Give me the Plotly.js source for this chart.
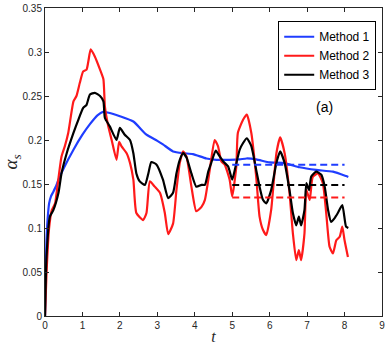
<!DOCTYPE html>
<html>
<head>
<meta charset="utf-8">
<script src="https://cdn.plot.ly/plotly-3.0.1.min.js"></script>
<style>html,body{margin:0;padding:0;background:#fff;}#chart{width:388px;height:346px;}</style>
</head>
<body>
<div id="chart"></div>
<script>
var seriesNames = ["Method 1", "Method 2", "Method 3"];

var m1_t = [0, 0.02, 0.04, 0.07, 0.11, 0.16, 0.22, 0.3, 0.36, 0.5, 0.76, 1.0, 1.2, 1.4, 1.55, 1.7, 2.0, 2.36, 2.71, 3.0, 3.15, 3.42, 3.69, 3.95, 4.31, 4.58, 4.93, 5.2, 5.38, 5.64, 6.0, 6.36, 6.8, 7.24, 7.69, 8.04, 8.1];
var m1_a = [0, 0.05, 0.086, 0.11, 0.128, 0.136, 0.141, 0.148, 0.155, 0.168, 0.189, 0.206, 0.218, 0.228, 0.232, 0.231, 0.227, 0.221, 0.206, 0.199, 0.195, 0.187, 0.185, 0.184, 0.179, 0.1775, 0.1775, 0.178, 0.179, 0.178, 0.1745, 0.174, 0.169, 0.166, 0.164, 0.159, 0.158];

var m2_t = [0, 0.04, 0.11, 0.18, 0.27, 0.31, 0.44, 0.53, 0.62, 0.76, 0.84, 0.93, 1.02, 1.11, 1.16, 1.22, 1.33, 1.47, 1.56, 1.6, 1.69, 1.78, 1.91, 1.98, 2.04, 2.18, 2.27, 2.36, 2.44, 2.62, 2.71, 2.8, 2.93, 3.07, 3.2, 3.29, 3.42, 3.51, 3.6, 3.69, 3.78, 3.91, 4.04, 4.18, 4.27, 4.4, 4.53, 4.62, 4.71, 4.8, 4.93, 5.0, 5.11, 5.15, 5.29, 5.39, 5.51, 5.64, 5.73, 5.82, 5.91, 6.04, 6.18, 6.28, 6.4, 6.53, 6.62, 6.71, 6.78, 6.84, 6.93, 6.98, 7.07, 7.15, 7.29, 7.42, 7.51, 7.6, 7.69, 7.78, 7.87, 7.94, 8.0, 8.09];
var m2_a = [0, 0.048, 0.10, 0.12, 0.128, 0.14, 0.181, 0.193, 0.208, 0.244, 0.25, 0.265, 0.278, 0.28, 0.29, 0.303, 0.295, 0.28, 0.269, 0.238, 0.2155, 0.2, 0.1775, 0.198, 0.193, 0.185, 0.174, 0.155, 0.117, 0.109, 0.117, 0.153, 0.147, 0.14, 0.117, 0.093, 0.105, 0.143, 0.174, 0.187, 0.181, 0.147, 0.119, 0.124, 0.132, 0.166, 0.2, 0.193, 0.1756, 0.172, 0.155, 0.136, 0.17, 0.208, 0.223, 0.229, 0.208, 0.1585, 0.113, 0.098, 0.092, 0.1205, 0.185, 0.203, 0.185, 0.14, 0.094, 0.0635, 0.075, 0.0635, 0.094, 0.143, 0.132, 0.158, 0.162, 0.151, 0.117, 0.0787, 0.071, 0.086, 0.09, 0.1015, 0.086, 0.067];

var m3_t = [0, 0.04, 0.13, 0.22, 0.36, 0.44, 0.58, 0.76, 0.89, 1.02, 1.11, 1.2, 1.33, 1.47, 1.56, 1.6, 1.73, 1.91, 2.0, 2.13, 2.27, 2.36, 2.44, 2.53, 2.67, 2.76, 2.84, 2.98, 3.15, 3.29, 3.42, 3.51, 3.6, 3.69, 3.78, 3.91, 4.04, 4.18, 4.27, 4.36, 4.44, 4.56, 4.67, 4.76, 4.89, 5.0, 5.09, 5.2, 5.29, 5.39, 5.51, 5.64, 5.73, 5.82, 5.91, 6.04, 6.18, 6.28, 6.4, 6.53, 6.62, 6.71, 6.78, 6.84, 6.93, 6.98, 7.05, 7.11, 7.24, 7.38, 7.47, 7.56, 7.64, 7.73, 7.82, 7.94, 8.04, 8.1];
var m3_a = [0, 0.067, 0.113, 0.12, 0.14, 0.162, 0.185, 0.208, 0.223, 0.2365, 0.24, 0.2517, 0.2536, 0.25, 0.244, 0.225, 0.2155, 0.2, 0.2137, 0.206, 0.2, 0.185, 0.162, 0.153, 0.149, 0.162, 0.175, 0.172, 0.155, 0.134, 0.14, 0.162, 0.1775, 0.185, 0.18, 0.162, 0.147, 0.149, 0.149, 0.164, 0.174, 0.188, 0.181, 0.1756, 0.17, 0.155, 0.17, 0.189, 0.1966, 0.202, 0.193, 0.166, 0.147, 0.132, 0.128, 0.143, 0.174, 0.187, 0.174, 0.143, 0.117, 0.103, 0.113, 0.103, 0.1205, 0.151, 0.143, 0.1585, 0.164, 0.1605, 0.147, 0.1205, 0.107, 0.111, 0.117, 0.126, 0.1015, 0.1];

// mean levels (dashed) over the window
var meanWindow = [5, 8];
var meanLevels = [0.172, 0.1346, 0.149];

var colors = ["#1f3dff", "#ff1a1a", "#000000"];

var traces = [
  {x: m1_t, y: m1_a, name: seriesNames[0], mode: "lines", line: {color: colors[0], width: 2.2, shape: "spline", smoothing: 0.5}},
  {x: m2_t, y: m2_a, name: seriesNames[1], mode: "lines", line: {color: colors[1], width: 2.2, shape: "spline", smoothing: 0.5}},
  {x: m3_t, y: m3_a, name: seriesNames[2], mode: "lines", line: {color: colors[2], width: 2.2, shape: "spline", smoothing: 0.5}}
];
for (var i = 0; i < 3; i++) {
  traces.push({
    x: meanWindow, y: [meanLevels[i], meanLevels[i]], mode: "lines", showlegend: false,
    line: {color: colors[i], width: 2, dash: "7px,4px"}
  });
}

var axisCommon = {
  showgrid: false, zeroline: false, showline: true, linecolor: "#262626", linewidth: 1,
  mirror: "allticks", ticks: "inside", ticklen: 4, tickcolor: "#262626",
  tickfont: {family: "Arial, Liberation Sans, sans-serif", size: 10, color: "#262626"}
};

var layout = {
  width: 388, height: 346,
  margin: {l: 45, r: 6, t: 8, b: 30},
  paper_bgcolor: "#fff", plot_bgcolor: "#fff",
  xaxis: Object.assign({}, axisCommon, {
    range: [0, 9], dtick: 1, tick0: 0,
    title: {text: "<i>t</i>", font: {family: "Liberation Serif, Times New Roman, serif", size: 16, color: "#262626"}, standoff: 0}
  }),
  yaxis: Object.assign({}, axisCommon, {
    range: [0, 0.35], dtick: 0.05, tick0: 0,
    title: {text: "<i>α<sub>s</sub></i>", font: {family: "Liberation Serif, Times New Roman, serif", size: 19, color: "#262626"}, standoff: 12}
  }),
  legend: {
    x: 0.692, y: 0.957, xanchor: "left", yanchor: "top",
    bgcolor: "#fff", bordercolor: "#000", borderwidth: 1,
    font: {family: "Arial, Liberation Sans, sans-serif", size: 12, color: "#000"},
    itemwidth: 30, tracegroupgap: 0
  },
  annotations: [{
    x: 7.47, y: 0.238, xref: "x", yref: "y", text: "(a)", showarrow: false,
    font: {family: "Arial, Liberation Sans, sans-serif", size: 14, color: "#000"}
  }],
  showlegend: true
};

Plotly.newPlot("chart", traces, layout, {displayModeBar: false, staticPlot: true});
</script>
</body>
</html>
